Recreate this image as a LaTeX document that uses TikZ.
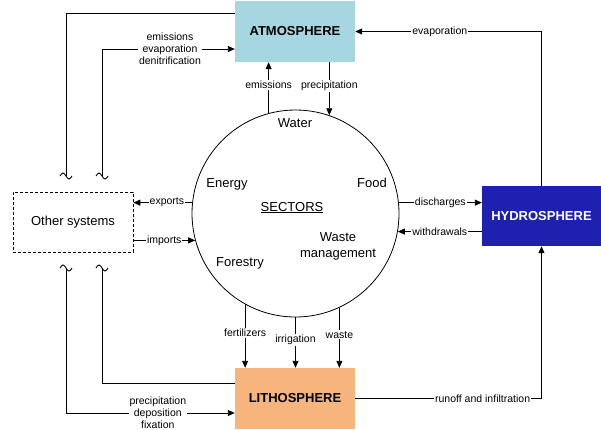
\documentclass[tikz,border=0pt]{standalone}
\usepackage{fontspec}
\setmainfont{Liberation Sans}
\usetikzlibrary{arrows.meta}
\definecolor{atmc}{RGB}{166,214,224}
\definecolor{hydc}{RGB}{30,32,176}
\definecolor{lithc}{RGB}{247,181,125}
\begin{document}
\begin{tikzpicture}[x=1pt,y=-1pt,
  every node/.style={font=\fontsize{13}{15.5}\selectfont},
  box/.style={minimum width=120pt, minimum height=61pt, inner sep=0pt,
    font=\fontsize{13}{15.5}\selectfont\bfseries},
  lbl/.style={fill=white, inner sep=1pt, font=\fontsize{10.5}{12}\selectfont, align=center},
  conn/.style={line width=0.9pt},
  arr/.style={conn, -{Triangle[length=7pt,width=6pt]}},
  tld/.style={line width=0.9pt},
]
\useasboundingbox (0,0) rectangle (601,429);

% main boxes
\node[box, fill=atmc] (atm) at (295,31.5) {ATMOSPHERE};
\node[box, fill=hydc, text=white, minimum width=119pt, minimum height=60pt] (hyd) at (541.5,216) {HYDROSPHERE};
\node[box, fill=lithc] (lit) at (295,398.5) {LITHOSPHERE};
\node[draw, densely dashed, line width=0.7pt, minimum width=120pt, minimum height=60pt, inner sep=0pt] (oth) at (73,222) {Other systems};
\node[draw, circle, minimum size=207pt, inner sep=0pt, line width=0.8pt] (sec) at (295.5,213.5) {};

% texts inside the circle
\node[anchor=base] (water) at (295,127.7) {Water};
\node[anchor=base] (energy) at (227,187) {Energy};
\node[anchor=base] (food) at (372,187) {Food};
\node[anchor=base] (sectors) at (292,211) {\underline{SECTORS}};
\node[anchor=base] (forestry) at (240,266.7) {Forestry};
\node[anchor=base, align=center] (wastem) at (338,257.3) {Waste\\management};

% tilde coordinates
\coordinate (ta) at (66,176);
\coordinate (tb) at (102,176);
\coordinate (tc) at (66,268);
\coordinate (td) at (102,268);
\foreach \c in {ta,tb,tc,td}{
  \draw[tld] ([xshift=-6pt]\c) sin ([xshift=-3pt,yshift=3pt]\c) cos (\c) sin ([xshift=3pt,yshift=-3pt]\c) cos ([xshift=6pt]\c);
}

% left loops
\draw[conn] (ta) |- ([yshift=18.5pt]atm.west);
\draw[arr] (tb) |- node[lbl, pos=0.756] (lb1) {emissions\\evaporation\\denitrification} ([yshift=-17.5pt]atm.west);
\draw[conn] (td) |- ([yshift=15.5pt]lit.west);
\draw[arr] (tc) |- node[lbl, pos=0.772, yshift=0.5pt] (lb2) {precipitation\\deposition\\fixation} ([yshift=-14.5pt]lit.west);

% circle <-> atmosphere
\draw[arr] (sec.105.4) -- node[lbl, pos=0.55] (lb3) {emissions} (sec.105.4 |- atm.south);
\draw[arr] (sec.71.7 |- atm.south) -- node[lbl, pos=0.45] (lb4) {precipitation} (sec.71.7);

% circle <-> other systems
\draw[arr] (sec.174.2) -- node[lbl, pos=0.43] (lb5) {exports} (sec.174.2 -| oth.east);
\draw[arr] (sec.-165.7 -| oth.east) -- node[lbl, pos=0.5] (lb6) {imports} (sec.-165.7);

% circle <-> hydrosphere
\draw[arr] (sec.6.9) -- node[lbl, pos=0.5] (lb7) {discharges} (sec.6.9 -| hyd.west);
\draw[arr] (sec.-10.9 -| hyd.west) -- node[lbl, pos=0.5] (lb8) {withdrawals} (sec.-10.9);

% circle -> lithosphere
\draw[arr] (sec.-119.2) -- node[lbl, pos=0.45] (lb9) {fertilizers} (sec.-119.2 |- lit.north);
\draw[arr] (sec.south) -- node[lbl, pos=0.45] (lb10) {irrigation} (sec.south |- lit.north);
\draw[arr] (sec.-65.1) -- node[lbl, pos=0.45] (lb11) {waste} (sec.-65.1 |- lit.north);

% hydrosphere loops
\draw[arr] (hyd.north) |- node[lbl, pos=0.773] (lb12) {evaporation} (atm.east);
\draw[arr] (lit.east) -| node[lbl, pos=0.342] (lb13) {runoff and infiltration} (hyd.south);
\end{tikzpicture}
\end{document}
